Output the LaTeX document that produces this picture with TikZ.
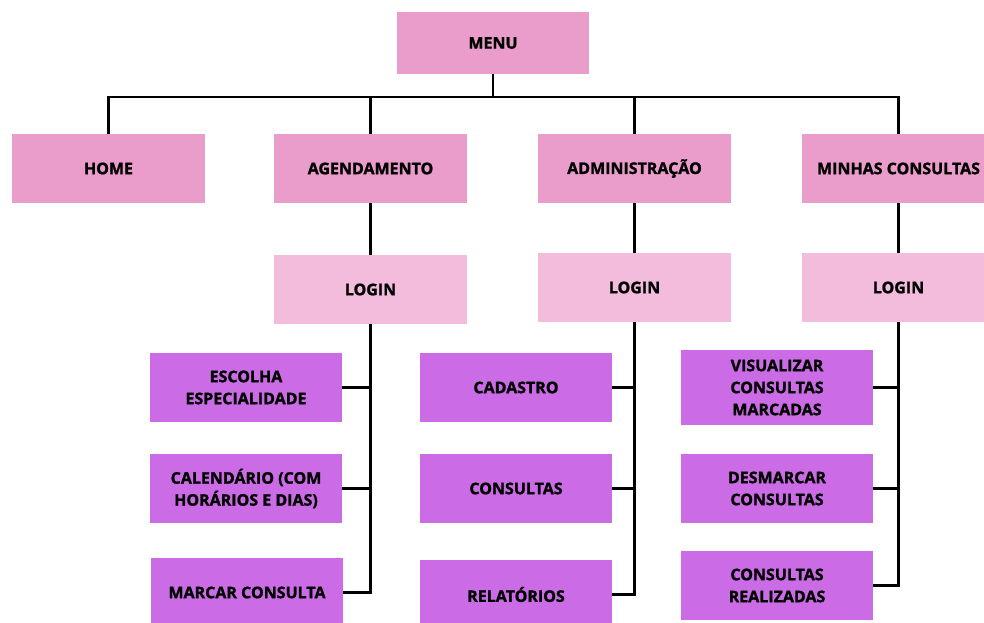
\documentclass[tikz,border=0pt]{standalone}
\usepackage{fontspec}
\setmainfont{Open Sans}[BoldFeatures={FakeBold=1.3}]
\usepackage{tikz}
\definecolor{rosa}{HTML}{EA9CCB}
\definecolor{rosaclaro}{HTML}{F3BBDC}
\definecolor{roxo}{HTML}{CB6CE6}

\begin{document}
\begin{tikzpicture}[x=1pt,y=-1pt,
    caixa/.style={fill=rosa, minimum width=193pt, minimum height=69pt, inner sep=0pt,
      align=center, font=\fontsize{16}{22}\selectfont\bfseries},
    login/.style={caixa, fill=rosaclaro},
    item/.style={caixa, fill=roxo, minimum width=192pt},
    linha/.style={line width=2.2pt, black}]
    \clip (0,0) rectangle (984,623);
    \fill[white] (0,0) rectangle (984,623);
    % topo
    \node[caixa, minimum width=192pt, minimum height=62pt] (menu) at (493,43) {MENU};
    \node[caixa] (home) at (108.5,168.5) {HOME};
    \node[caixa] (agend) at (370.5,168.5) {AGENDAMENTO};
    \node[caixa] (admin) at (634.5,168.5) {ADMINISTRAÇÃO};
    \node[caixa] (minhas) at (898.5,168.5) {MINHAS CONSULTAS};
    % login
    \node[login] (login1) at (370.5,289.5) {LOGIN};
    \node[login] (login2) at (634.5,287.5) {LOGIN};
    \node[login] (login3) at (898.5,287.5) {LOGIN};
    % agendamento
    \node[item] (esc) at (246,387.5) {ESCOLHA\\ESPECIALIDADE};
    \node[item] (cal) at (246,488.5) {CALENDÁRIO (COM\\HORÁRIOS E DIAS)};
    \node[item] (marcar) at (247,592.5) {MARCAR CONSULTA};
    % administracao
    \node[item] (cad) at (516,387.5) {CADASTRO};
    \node[item] (cons) at (516,488.5) {CONSULTAS};
    \node[item] (rel) at (516,594.5) {RELATÓRIOS};
    % minhas consultas
    \node[item, minimum height=75pt] (vis) at (777,387.5) {VISUALIZAR\\CONSULTAS\\MARCADAS};
    \node[item] (desm) at (777,488.5) {DESMARCAR\\CONSULTAS};
    \node[item] (real) at (777,585.5) {CONSULTAS\\REALIZADAS};

    \coordinate (bus) at (493,97);
    \draw[linha] (menu.south) -- (bus);
    \draw[linha] (home.north) -- (home.north |- bus) -- (minhas.north |- bus) -- (minhas.north);
    \draw[linha] (agend.north) -- (agend.north |- bus);
    \draw[linha] (admin.north) -- (admin.north |- bus);

    \draw[linha] (agend.south) -- (login1.north);
    \draw[linha] (admin.south) -- (login2.north);
    \draw[linha] (minhas.south) -- (login3.north);

    \draw[linha] (login1.south) |- (marcar.east);
    \draw[linha] (esc.east) -- (esc.east -| login1.south);
    \draw[linha] (cal.east) -- (cal.east -| login1.south);

    \draw[linha] (login2.south) |- (rel.east);
    \draw[linha] (cad.east) -- (cad.east -| login2.south);
    \draw[linha] (cons.east) -- (cons.east -| login2.south);

    \draw[linha] (login3.south) |- (real.east);
    \draw[linha] (vis.east) -- (vis.east -| login3.south);
    \draw[linha] (desm.east) -- (desm.east -| login3.south);
\end{tikzpicture}
\end{document}
